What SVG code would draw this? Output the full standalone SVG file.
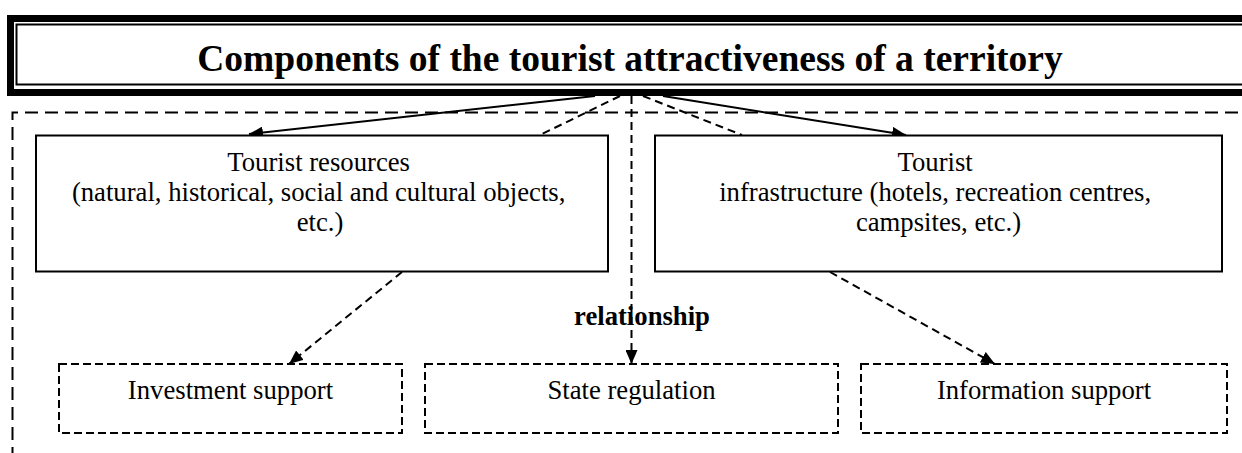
<svg xmlns="http://www.w3.org/2000/svg" width="1242" height="453" viewBox="0 0 1242 453">
  <defs>
    <marker id="arrow" viewBox="0 0 14 12" refX="14" refY="6" markerWidth="14" markerHeight="12" markerUnits="userSpaceOnUse" orient="auto">
      <path d="M0,0 L14,6 L0,12 Z" fill="#000"/>
    </marker>
  </defs>
  <style>
    .txt { font-family: "Liberation Serif", "Times New Roman", serif; font-size: 26.7px; fill: #000; }
    .bold { font-weight: bold; }
    .title { font-family: "Liberation Serif", "Times New Roman", serif; font-size: 37.5px; font-weight: bold; fill: #000; }
    .box { fill: #fff; stroke: #000; stroke-width: 2; }
    .dbox { fill: #fff; stroke: #000; stroke-width: 2; stroke-dasharray: 8 4; }
    .frame { fill: none; stroke: #000; stroke-width: 2; stroke-dasharray: 13 7; }
    .solid { fill: none; stroke: #000; stroke-width: 2; }
    .dash { fill: none; stroke: #000; stroke-width: 2; stroke-dasharray: 8 5; }
  </style>

  <rect width="1242" height="453" fill="#fff"/>

  <!-- outer dashed enclosure -->
  <path class="frame" d="M1238,112.5 H12.5 V453"/>

  <!-- title banner with thick-thin border -->
  <g id="title">
    <rect x="10.5" y="18.5" width="1250" height="74" fill="#fff" stroke="#000" stroke-width="7"/>
    <rect x="16.5" y="24.5" width="1250" height="60" fill="none" stroke="#000" stroke-width="2"/>
    <text class="title" x="630" y="71" text-anchor="middle">Components of the tourist attractiveness of a territory</text>
  </g>

  <!-- connectors -->
  <g id="connectors">
    <line class="solid" x1="595" y1="96" x2="249" y2="134" marker-end="url(#arrow)"/>
    <line class="solid" x1="663" y1="96" x2="906" y2="135" marker-end="url(#arrow)"/>
    <line class="dash" x1="620" y1="96" x2="540" y2="135"/>
    <line class="dash" x1="643" y1="96" x2="742" y2="135"/>
    <line class="dash" x1="631.5" y1="96" x2="631.5" y2="364" marker-end="url(#arrow)"/>
    <line class="dash" x1="402" y1="272" x2="289" y2="364" marker-end="url(#arrow)"/>
    <line class="dash" x1="830" y1="272" x2="995" y2="364" marker-end="url(#arrow)"/>
  </g>

  <g id="resources">
    <rect class="box" x="36" y="135.5" width="572" height="136"/>
    <text class="txt" text-anchor="middle">
      <tspan x="322" y="171">Tourist resources</tspan>
      <tspan x="322" y="201">(natural, historical, social and cultural objects,</tspan>
      <tspan x="320" y="231">etc.)</tspan>
    </text>
  </g>

  <g id="infrastructure">
    <rect class="box" x="655" y="135.5" width="567" height="136"/>
    <text class="txt" text-anchor="middle">
      <tspan x="938.5" y="171">Tourist</tspan>
      <tspan x="938.5" y="201">infrastructure (hotels, recreation centres,</tspan>
      <tspan x="938.5" y="231">campsites, etc.)</tspan>
    </text>
  </g>

  <g id="relationship-label">
    <text class="txt bold" x="642" y="325" text-anchor="middle">relationship</text>
  </g>

  <g id="investment">
    <rect class="dbox" x="59" y="364" width="343" height="69"/>
    <text class="txt" x="230.5" y="399" text-anchor="middle">Investment support</text>
  </g>

  <g id="state">
    <rect class="dbox" x="425" y="364" width="413" height="69"/>
    <text class="txt" x="631.5" y="399" text-anchor="middle">State regulation</text>
  </g>

  <g id="information">
    <rect class="dbox" x="861" y="364" width="366" height="69"/>
    <text class="txt" x="1044" y="399" text-anchor="middle">Information support</text>
  </g>
</svg>
